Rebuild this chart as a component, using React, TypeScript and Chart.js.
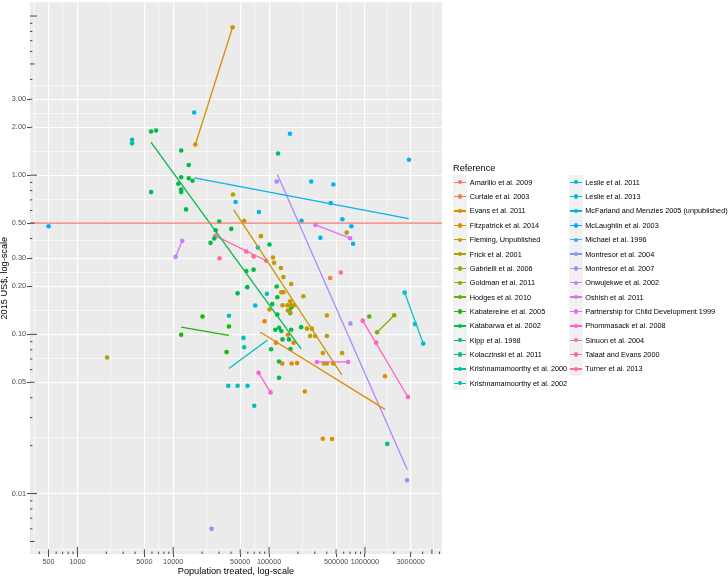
import React, { useEffect, useRef } from "react";
import { Chart, registerables } from "chart.js";

Chart.register(...registerables);

type Pt = [number, number];

const references: string[] = [
  "Amarillo et al. 2009",
  "Curtale et al. 2003",
  "Evans et al. 2011",
  "Fitzpatrick et al. 2014",
  "Fleming, Unpublished",
  "Frick et al. 2001",
  "Gabrielli et al. 2006",
  "Goldman et al. 2011",
  "Hodges et al. 2010",
  "Kabatereine et al. 2005",
  "Katabarwa et al. 2002",
  "Kipp et al. 1998",
  "Kolaczinski et al. 2011",
  "Krishnamamoorthy et al. 2000",
  "Krishnamamoorthy et al. 2002",
  "Leslie et al. 2011",
  "Leslie et al. 2013",
  "McFarland and Menzies 2005 (unpublished)",
  "McLaughlin et al. 2003",
  "Michael et al. 1996",
  "Montresor et al. 2004",
  "Montresor et al. 2007",
  "Onwujekwe et al. 2002",
  "Oshish et al. 2011",
  "Partnership for Child Development 1999",
  "Phommasack et al. 2008",
  "Sinuon et al. 2004",
  "Talaat and Evans 2000",
  "Turner et al. 2013",
];

// axis limits and breaks
const X_MIN = 320;
const X_MAX = 6370000;
const Y_MIN = 0.00417;
const Y_MAX = 12.2;
const xBreaks = [500, 1000, 5000, 10000, 50000, 100000, 500000, 1000000, 3000000];
const xTickLabels = ["500", "1000", "5000", "10000", "50000", "100000", "500000", "1000000", "3000000"];
const yBreaks = [0.01, 0.05, 0.1, 0.2, 0.3, 0.5, 1, 2, 3];
const yTickLabels = ["0.01", "0.05", "0.10", "0.20", "0.30", "0.50", "1.00", "2.00", "3.00"];

// [population treated, 2015 US$]
const amarilloCost = 0.5;
const amarillo2009: Pt[] = [];
const amarillo2009Line: Pt[] = [[X_MIN, amarilloCost], [X_MAX, amarilloCost]];
const curtale2003: Pt[] = [[434000, 0.226]];
const evans2011: Pt[] = [
  [89600, 0.121], [118000, 0.0887], [157000, 0.0995], [180000, 0.0887], [137000, 0.0656],
  [172000, 0.0656], [196000, 0.066], [236000, 0.0438], [363000, 0.0221], [454000, 0.022],
  [1620000, 0.0546],
];
const evans2011Fit: Pt[] = [[80700, 0.1034], [1620000, 0.0338]];
const fitzpatrick2014: Pt[] = [[17000, 1.56], [41600, 8.5]];
const fleming: Pt[] = [
  [42000, 0.757], [55000, 0.518], [82200, 0.414], [110000, 0.304], [112700, 0.282],
  [132800, 0.261], [141000, 0.229], [170000, 0.207], [134000, 0.184], [141000, 0.184],
  [228000, 0.1735], [166000, 0.1615], [138000, 0.1525], [155000, 0.1525], [170000, 0.1525],
  [182000, 0.1525], [157000, 0.1413], [166000, 0.1377], [100900, 0.1433], [248000, 0.1086],
  [279000, 0.1086], [401000, 0.1315], [268000, 0.0976], [302000, 0.0976], [401000, 0.0976],
  [364000, 0.0764], [373000, 0.0656], [401000, 0.0656], [467000, 0.0656], [578000, 0.0764],
];
const flemingFit: Pt[] = [[42600, 0.607], [573000, 0.0557]];
const frick2001: Pt[] = [[2040, 0.0715]];
const gabrielli2006: Pt[] = [[645000, 0.436]];
const goldman2011: Pt[] = [[1340000, 0.103], [2020000, 0.132]];
const hodges2010: Pt[] = [[1110000, 0.1296]];
const kabatereine2005: Pt[] = [[12100, 0.0995], [20200, 0.1296], [38100, 0.112], [36000, 0.0774]];
const kabatereine2005Fit: Pt[] = [[12100, 0.111], [38100, 0.0986]];
const katabarwa2002: Pt[] = [
  [5870, 1.88], [6620, 1.91], [5870, 0.783], [12100, 1.43], [14500, 1.16], [12100, 0.97],
  [14500, 0.958], [15900, 0.922], [11300, 0.883], [12100, 0.814], [12100, 0.783], [13600, 0.61],
  [30200, 0.511], [27700, 0.451], [40300, 0.46], [26800, 0.4], [24500, 0.376], [101000, 0.367],
  [57800, 0.25], [68900, 0.255], [59200, 0.198], [46900, 0.181], [120000, 0.2], [122000, 0.171],
  [108000, 0.155], [122000, 0.133], [127000, 0.11], [116000, 0.107], [134000, 0.105],
  [170000, 0.107], [138000, 0.093], [161000, 0.093], [105000, 0.0806], [167000, 0.081],
  [127000, 0.0675], [127000, 0.0533], [163000, 0.141], [166000, 0.136], [171000, 0.148],
  [216000, 0.111],
];
const katabarwa2002Fit: Pt[] = [[5870, 1.61], [216000, 0.081]];
const kipp1998: Pt[] = [[124000, 1.37]];
const kolaczinski2011: Pt[] = [[1710000, 0.0205]];
const krishnamamoorthy2000: Pt[] = [[3720, 1.67], [3720, 1.585]];
const krishnamamoorthy2002: Pt[] = [
  [38100, 0.131], [37500, 0.0475], [46900, 0.0475], [59600, 0.0475], [70000, 0.0356],
  [54000, 0.095], [55000, 0.083], [76400, 0.351], [94900, 0.18],
];
const krishnamamoorthy2002Fit: Pt[] = [[38100, 0.061], [96200, 0.0921]];
const leslie2011: Pt[] = [[2600000, 0.183], [3330000, 0.116], [4060000, 0.0875]];
const leslie2011Fit: Pt[] = [[2600000, 0.183], [4060000, 0.0875]];
const leslie2013: Pt[] = [];
const mcfarland2005: Pt[] = [
  [16500, 2.48], [165000, 1.82], [2880000, 1.25], [275000, 0.913], [469000, 0.874],
  [44700, 0.678], [440000, 0.668], [78300, 0.587], [218000, 0.518], [582000, 0.529],
  [722000, 0.478], [343000, 0.404], [752000, 0.371], [71600, 0.152],
];
const mcfarland2005Fit: Pt[] = [[16600, 0.962], [2860000, 0.533]];
const mclaughlin2003: Pt[] = [[500, 0.478]];
const michael1996: Pt[] = [];
const montresor2004: Pt[] = [[25100, 0.006]];
const montresor2007: Pt[] = [[120000, 0.913], [705000, 0.117], [2750000, 0.0121]];
const montresor2007Fit: Pt[] = [[122000, 1.01], [2770000, 0.0141]];
const onwujekwe2002: Pt[] = [[10600, 0.307], [12400, 0.387]];
const oshish2011: Pt[] = [[304000, 0.487], [700000, 0.402]];
const partnership1999: Pt[] = [[315000, 0.0671], [667000, 0.0671]];
const phommasack2008: Pt[] = [[77700, 0.0573], [103500, 0.0432]];
const sinuon2004: Pt[] = [[948000, 0.122], [1310000, 0.0887], [2810000, 0.0404]];
const sinuon2004Fit: Pt[] = [[948000, 0.122], [2810000, 0.0404]];
const talaat2000: Pt[] = [[27500, 0.416], [57800, 0.332], [68900, 0.309], [93400, 0.29], [30400, 0.301]];
const talaat2000Fit: Pt[] = [[27500, 0.416], [93400, 0.29]];
const turner2013: Pt[] = [[560000, 0.245]];

const seriesPoints: Pt[][] = [
  amarillo2009, curtale2003, evans2011, fitzpatrick2014, fleming, frick2001, gabrielli2006,
  goldman2011, hodges2010, kabatereine2005, katabarwa2002, kipp1998, kolaczinski2011,
  krishnamamoorthy2000, krishnamamoorthy2002, leslie2011, leslie2013, mcfarland2005,
  mclaughlin2003, michael1996, montresor2004, montresor2007, onwujekwe2002, oshish2011,
  partnership1999, phommasack2008, sinuon2004, talaat2000, turner2013,
];
const seriesFits: (Pt[] | null)[] = [
  amarillo2009Line, null, evans2011Fit, fitzpatrick2014, flemingFit, null, null,
  goldman2011, null, kabatereine2005Fit, katabarwa2002Fit, null, null,
  null, krishnamamoorthy2002Fit, leslie2011Fit, null, mcfarland2005Fit,
  null, null, null, montresor2007Fit, onwujekwe2002, oshish2011,
  partnership1999, phommasack2008, sinuon2004Fit, talaat2000Fit, null,
];

function hclToHex(h: number, c: number, l: number): string {
  const hr = (h * Math.PI) / 180;
  const U = c * Math.cos(hr);
  const V = c * Math.sin(hr);
  const Xn = 0.95047, Yn = 1.0, Zn = 1.08883;
  const Y = l > 8 ? Yn * Math.pow((l + 16) / 116, 3) : (Yn * l) / 903.3;
  const d = Xn + 15 * Yn + 3 * Zn;
  const un = (4 * Xn) / d;
  const vn = (9 * Yn) / d;
  const u = U / (13 * l) + un;
  const v = V / (13 * l) + vn;
  const X = (9 * Y * u) / (4 * v);
  const Z = (Y * (12 - 3 * u - 20 * v)) / (4 * v);
  const lin = [
    3.240479 * X - 1.53715 * Y - 0.498535 * Z,
    -0.969256 * X + 1.875992 * Y + 0.041556 * Z,
    0.055648 * X - 0.204043 * Y + 1.057311 * Z,
  ];
  return (
    "#" +
    lin
      .map((cc) => {
        const g = cc <= 0.0031308 ? 12.92 * cc : 1.055 * Math.pow(cc, 1 / 2.4) - 0.055;
        const n = Math.round(Math.min(1, Math.max(0, g)) * 255);
        return n.toString(16).padStart(2, "0");
      })
      .join("")
  );
}

const colors = references.map((_, i) => hclToHex(15 + (i * 360) / references.length, 100, 65));

function minorBreaks(breaks: number[]): number[] {
  const out: number[] = [];
  out.push(breaks[0] / Math.sqrt(breaks[1] / breaks[0]));
  for (let i = 0; i < breaks.length - 1; i++) out.push(Math.sqrt(breaks[i] * breaks[i + 1]));
  const n = breaks.length;
  out.push(breaks[n - 1] * Math.sqrt(breaks[n - 1] / breaks[n - 2]));
  return out;
}

const findIdx = (arr: number[], v: number) => arr.findIndex((b) => Math.abs(b - v) / b < 1e-6);

const FONT = "'Liberation Sans', Arial, Helvetica, sans-serif";

const panelBg = {
  id: "panelBg",
  beforeDraw(chart: any) {
    const { ctx, chartArea } = chart;
    ctx.save();
    ctx.fillStyle = "#EBEBEB";
    ctx.fillRect(chartArea.left, chartArea.top, chartArea.right - chartArea.left, chartArea.bottom - chartArea.top);
    ctx.restore();
  },
};

const logTicks = {
  id: "logTicks",
  afterDatasetsDraw(chart: any) {
    const { ctx, chartArea } = chart;
    const xs = chart.scales.x;
    const ys = chart.scales.y;
    ctx.save();
    ctx.strokeStyle = "#333333";
    ctx.lineWidth = 0.9;
    const lenFor = (m: number) => (m === 1 ? 7 : m === 5 ? 4.7 : 2.4);
    for (let k = -4; k <= 7; k++) {
      for (let m = 1; m <= 9; m++) {
        const v = m * Math.pow(10, k);
        if (v >= X_MIN && v <= X_MAX) {
          const px = xs.getPixelForValue(v);
          ctx.beginPath();
          ctx.moveTo(px, chartArea.bottom);
          ctx.lineTo(px, chartArea.bottom - lenFor(m));
          ctx.stroke();
        }
        if (v >= Y_MIN && v <= Y_MAX) {
          const py = ys.getPixelForValue(v);
          ctx.beginPath();
          ctx.moveTo(chartArea.left, py);
          ctx.lineTo(chartArea.left + lenFor(m), py);
          ctx.stroke();
        }
      }
    }
    ctx.restore();
  },
};

export default function App() {
  const canvasRef = useRef<HTMLCanvasElement | null>(null);

  useEffect(() => {
    document.body.style.margin = "0";
    if (!canvasRef.current) return;
    Chart.defaults.font.family = FONT;

    const datasets: any[] = [];
    references.forEach((name, i) => {
      const fit = seriesFits[i];
      if (fit) {
        datasets.push({
          label: name + " (fit)",
          data: fit.map(([x, y]) => ({ x, y })),
          showLine: true,
          borderColor: colors[i],
          backgroundColor: colors[i],
          borderWidth: 1.3,
          pointRadius: 0,
          pointHoverRadius: 0,
          fill: false,
          order: 1,
        });
      }
      const pts = seriesPoints[i];
      if (pts.length) {
        datasets.push({
          label: name,
          data: pts.map(([x, y]) => ({ x, y })),
          showLine: false,
          backgroundColor: colors[i],
          borderColor: colors[i],
          pointBackgroundColor: colors[i],
          pointRadius: 2.3,
          pointHoverRadius: 2.3,
          pointBorderWidth: 0,
          order: 2,
        });
      }
    });

    const xGrid = [...xBreaks, ...minorBreaks(xBreaks)].sort((a, b) => a - b);
    const yGrid = [...yBreaks, ...minorBreaks(yBreaks)].sort((a, b) => a - b);

    const chart = new Chart(canvasRef.current, {
      type: "scatter",
      data: { datasets },
      plugins: [panelBg, logTicks],
      options: {
        animation: false,
        responsive: false,
        devicePixelRatio: 1,
        events: [],
        layout: { padding: { left: 0, top: 1, right: 286, bottom: 0 } },
        plugins: { legend: { display: false }, tooltip: { enabled: false }, title: { display: false } },
        scales: {
          x: {
            type: "logarithmic",
            position: "bottom",
            min: X_MIN,
            max: X_MAX,
            afterBuildTicks: (axis: any) => {
              axis.ticks = xGrid.map((v) => ({ value: v }));
            },
            afterFit: (axis: any) => {
              axis.height = 23;
              axis.paddingLeft = 0;
              axis.paddingRight = 0;
            },
            ticks: {
              autoSkip: false,
              maxRotation: 0,
              minRotation: 0,
              padding: 1,
              color: "#4D4D4D",
              font: { size: 7.3, family: FONT },
              callback: (v: any) => {
                const i = findIdx(xBreaks, Number(v));
                return i >= 0 ? xTickLabels[i] : "";
              },
            },
            grid: {
              color: "#FFFFFF",
              lineWidth: (ctx: any) => (findIdx(xBreaks, ctx.tick?.value) >= 0 ? 1.1 : 0.55),
              tickLength: 3,
              tickWidth: 0.9,
              tickColor: (ctx: any) => (findIdx(xBreaks, ctx.tick?.value) >= 0 ? "#333333" : "rgba(0,0,0,0)"),
            },
            border: { display: false },
            title: {
              display: true,
              text: "Population treated, log-scale",
              color: "#000000",
              font: { size: 9.2, family: FONT, lineHeight: 1.2 },
              padding: { top: 0, bottom: 0.5 },
            },
          },
          y: {
            type: "logarithmic",
            position: "left",
            min: Y_MIN,
            max: Y_MAX,
            afterBuildTicks: (axis: any) => {
              axis.ticks = yGrid.map((v) => ({ value: v }));
            },
            afterFit: (axis: any) => {
              axis.width = 30;
              axis.paddingTop = 0;
              axis.paddingBottom = 0;
            },
            ticks: {
              autoSkip: false,
              padding: 1,
              color: "#4D4D4D",
              font: { size: 7.3, family: FONT },
              callback: (v: any) => {
                const i = findIdx(yBreaks, Number(v));
                return i >= 0 ? yTickLabels[i] : "";
              },
            },
            grid: {
              color: "#FFFFFF",
              lineWidth: (ctx: any) => (findIdx(yBreaks, ctx.tick?.value) >= 0 ? 1.1 : 0.55),
              tickLength: 3,
              tickWidth: 0.9,
              tickColor: (ctx: any) => (findIdx(yBreaks, ctx.tick?.value) >= 0 ? "#333333" : "rgba(0,0,0,0)"),
            },
            border: { display: false },
            title: {
              display: true,
              text: "2015 US$, log-scale",
              color: "#000000",
              font: { size: 9.2, family: FONT, lineHeight: 1 },
              padding: { top: 0, bottom: 0 },
            },
          },
        },
      } as any,
    });
    return () => chart.destroy();
  }, []);

  const rowStep = 14.36;
  const firstRowTop = 175.1;
  const perCol = 15;

  return (
    <div style={{ position: "relative", width: 728, height: 577, fontFamily: FONT, background: "#FFFFFF" }}>
      <canvas ref={canvasRef} width={728} height={577} style={{ position: "absolute", left: 0, top: 0 }} />
      <div style={{ position: "absolute", left: 453, top: 162.5, fontSize: 9.2, lineHeight: "11px", color: "#000" }}>
        Reference
      </div>
      {references.map((name, i) => {
        const col = i < perCol ? 0 : 1;
        const row = i < perCol ? i : i - perCol;
        const keyLeft = col === 0 ? 453 : 568.5;
        const top = firstRowTop + row * rowStep;
        return (
          <div key={name} style={{ position: "absolute", left: keyLeft, top, height: rowStep, display: "flex", alignItems: "center", whiteSpace: "nowrap" }}>
            <div style={{ position: "relative", width: 14.4, height: rowStep, background: "#F2F2F2" }}>
              <div style={{ position: "absolute", left: 1.2, right: 1.2, top: rowStep / 2 - 0.65, height: 1.3, background: colors[i] }} />
              <div style={{ position: "absolute", left: 7.2 - 2.2, top: rowStep / 2 - 2.2, width: 4.4, height: 4.4, borderRadius: "50%", background: colors[i] }} />
            </div>
            <span style={{ marginLeft: 2.4, fontSize: 7.3, lineHeight: "9px", color: "#000" }}>{name}</span>
          </div>
        );
      })}
    </div>
  );
}
